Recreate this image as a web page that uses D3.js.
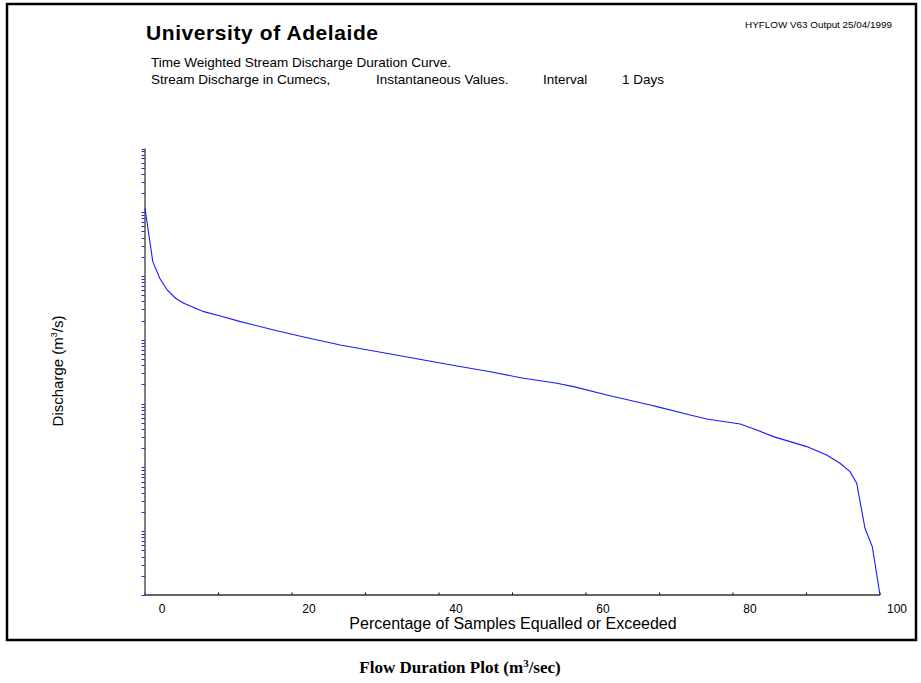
<!DOCTYPE html>
<html>
<head>
    <meta charset="utf-8">
    <style>
        body {
            margin: 0;
            background: white;
            font-family: Arial, 'Liberation Sans', sans-serif;
        }
        svg {
            display: block;
        }
    </style>
</head>
<body>
    <svg width="921" height="683"></svg>

<script src="https://d3js.org/d3.v7.min.js"></script>
<script>
    // percentage of samples equalled or exceeded
    let percent = [0, 1.06, 2.01, 3.02, 4.15, 5.28, 7.99, 10.27, 12.98, 17.51,
        22.05, 26.58, 31.11, 34.74, 37.91, 42.45, 46.98, 51.50, 56.04, 58.30,
        62.84, 68.73, 69.64, 74.17, 76.44, 80.97, 83.24, 85.49, 90.03, 92.75,
        94.56, 95.92, 96.83, 97.96, 98.95, 100]

    // discharge in m3/s
    let discharge = [1156, 168, 92.4, 60.6, 44.9, 37.5, 27.7, 23.7, 19.3, 14.3,
        10.8, 8.32, 6.70, 5.65, 4.84, 3.90, 3.17, 2.50, 2.09, 1.85,
        1.37, 0.955, 0.897, 0.665, 0.575, 0.481, 0.387, 0.304, 0.212, 0.157,
        0.116, 0.0859, 0.0565, 0.0111, 0.00574, 0.001]

    let xTickLabels = [0, 20, 40, 60, 80, 100]

    // pieces of the second subtitle line, spread out as in the original
    let subtitleParts = ["Stream Discharge in Cumecs,", "Instantaneous Values.", "Interval", "1 Days"]
    let subtitleX = [151, 376, 543, 622]

    let data = percent.map((p, i) => ({ p: p, q: discharge[i] }))

    let svg = d3.select("svg")

    let plotLeft = 145, plotRight = 880, plotTop = 148.5, plotBottom = 595

    // outer frame
    svg.append("rect")
        .attr("x", 7)
        .attr("y", 4)
        .attr("width", 909)
        .attr("height", 636)
        .style("fill", "none")
        .style("stroke", "#000")
        .style("stroke-width", 2.5)

    let x = d3.scaleLinear()
        .domain([0, 100])
        .range([plotLeft, plotRight])

    let y = d3.scaleLog()
        .domain([0.001, 10000])
        .range([plotBottom, plotTop])

    // y ticks: 1..9 in every decade, blue, pointing left
    let yTicks = []
    for (let e = -3; e < 4; e++) {
        for (let m = 1; m < 10; m++) yTicks.push(m * Math.pow(10, e))
    }
    yTicks.push(10000)

    svg.selectAll(".ytick")
        .data(yTicks)
        .join("line")
        .attr("class", "ytick")
        .attr("x1", plotLeft - 3.5)
        .attr("x2", plotLeft)
        .attr("y1", d => Math.round(y(d)) + 0.5)
        .attr("y2", d => Math.round(y(d)) + 0.5)
        .style("stroke", "#2222ff")
        .style("stroke-width", 1)

    // x ticks every 10, small and pointing up
    svg.selectAll(".xtick")
        .data(d3.range(0, 101, 10))
        .join("line")
        .attr("class", "xtick")
        .attr("x1", d => x(d))
        .attr("x2", d => x(d))
        .attr("y1", plotBottom)
        .attr("y2", plotBottom - 2.5)
        .style("stroke", "#000")
        .style("stroke-width", 1)

    // axes
    svg.append("line")
        .attr("x1", plotLeft).attr("x2", plotLeft)
        .attr("y1", plotTop).attr("y2", plotBottom)
        .style("stroke", "#555")
        .style("stroke-width", 1.5)

    svg.append("line")
        .attr("x1", plotLeft).attr("x2", plotRight)
        .attr("y1", plotBottom).attr("y2", plotBottom)
        .style("stroke", "#333")
        .style("stroke-width", 1.5)

    // x tick labels (the program draws them a little right of the ticks)
    svg.selectAll(".xlabel")
        .data(xTickLabels)
        .join("text")
        .attr("class", "xlabel")
        .attr("x", d => x(d) + 17)
        .attr("y", 613)
        .attr("text-anchor", "middle")
        .style("font-size", "12px")
        .text(d => d)

    let line = d3.line()
        .x(d => x(d.p))
        .y(d => y(d.q))

    svg.append("path")
        .datum(data)
        .attr("d", line)
        .style("fill", "none")
        .style("stroke", "#1a1aff")
        .style("stroke-width", 1.1)

    // titles
    svg.append("text")
        .attr("x", 146)
        .attr("y", 40)
        .attr("textLength", 232)
        .style("font-size", "21px")
        .style("font-weight", "bold")
        .text("University of Adelaide")

    svg.append("text")
        .attr("x", 745)
        .attr("y", 28)
        .attr("textLength", 147)
        .attr("lengthAdjust", "spacingAndGlyphs")
        .style("font-size", "8.5px")
        .text("HYFLOW V63  Output 25/04/1999")

    svg.append("text")
        .attr("x", 151)
        .attr("y", 67)
        .style("font-size", "13.5px")
        .text("Time Weighted Stream Discharge Duration Curve.")

    svg.selectAll(".sub2")
        .data(subtitleParts)
        .join("text")
        .attr("class", "sub2")
        .attr("x", (d, i) => subtitleX[i])
        .attr("y", 84)
        .style("font-size", "13.5px")
        .text(d => d)

    // axis titles
    let yLab = svg.append("text")
        .attr("transform", "translate(63,371) rotate(-90)")
        .attr("text-anchor", "middle")
        .style("font-size", "15px")
    yLab.append("tspan").text("Discharge (m")
    yLab.append("tspan").attr("dy", -6).style("font-size", "9px").text("3")
    yLab.append("tspan").attr("dy", 6).text("/s)")

    svg.append("text")
        .attr("x", 513)
        .attr("y", 629)
        .attr("text-anchor", "middle")
        .style("font-size", "16px")
        .text("Percentage of Samples Equalled or Exceeded")

    // caption below frame
    let cap = svg.append("text")
        .attr("x", 460)
        .attr("y", 673)
        .attr("text-anchor", "middle")
        .style("font-family", "'Liberation Serif', 'Times New Roman', serif")
        .style("font-size", "17px")
        .style("font-weight", "bold")
    cap.append("tspan").text("Flow Duration Plot (m")
    cap.append("tspan").attr("dy", -6).style("font-size", "11px").text("3")
    cap.append("tspan").attr("dy", 6).text("/sec)")
</script>
</body>
</html>
